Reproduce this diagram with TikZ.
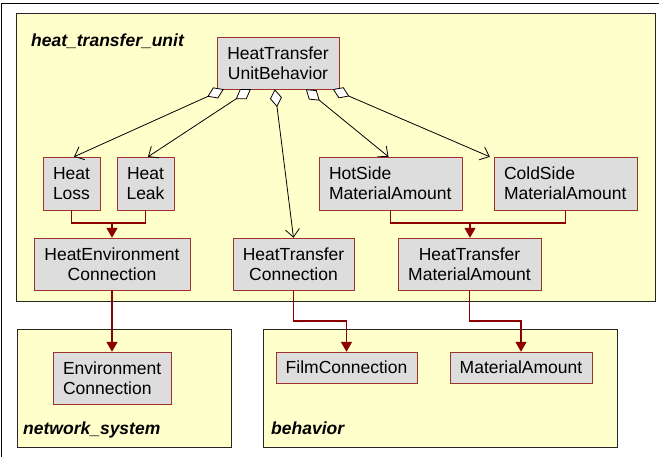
\documentclass[tikz,border=0pt]{standalone}
\usepackage{fontspec}
\setmainfont{Liberation Sans}
\usetikzlibrary{arrows.meta,calc}
\definecolor{pkgfill}{RGB}{255,255,204}
\definecolor{blkfill}{RGB}{221,221,221}
\definecolor{blkline}{RGB}{160,50,45}
\definecolor{relred}{RGB}{140,0,0}
\tikzset{
  blk/.style    = {draw=blkline, fill=blkfill, align=center, inner sep=0pt,
                   font=\fontsize{17.5}{20}\selectfont},
  blkl/.style   = {blk, align=left},
  pkg/.style    = {draw=black!85, fill=pkgfill, line width=1pt, inner sep=0pt},
  plbl/.style   = {font=\fontsize{17.5}{20}\selectfont\bfseries\itshape,
                   anchor=base west, inner sep=0pt},
  agg/.style    = {{Diamond[fill=white, length=18pt, width=12pt]}-{Straight Barb[length=8pt, width=14pt]},
                   black, line width=0.8pt},
  rel/.style    = {-{Triangle[length=10pt, width=11pt]}, relred, line width=1.6pt},
  relline/.style= {relred, line width=1.6pt},
}

\begin{document}
\begin{tikzpicture}[x=1pt, y=-1pt]

\useasboundingbox (0,0) rectangle (659,457);
\clip (0,0) rectangle (659,457);
\draw[line width=1pt] (1.5,3.5) rectangle (700,500);

% --- packages ---
\node[pkg, minimum width=639, minimum height=288] (htu) at (335.5,158) {};
\node[pkg, minimum width=214, minimum height=118] (net) at (124,388) {};
\node[pkg, minimum width=354, minimum height=118] (beh) at (440,388) {};

\node[plbl] (lhtu) at (31,47)  {heat\_transfer\_unit};
\node[plbl] (lnet) at (23,434) {network\_system};
\node[plbl] (lbeh) at (271,434) {behavior};

% --- heat_transfer_unit ---
\node[blk, minimum width=122, minimum height=52] (htub) at (278,63)
     {HeatTransfer\\UnitBehavior};
\node[blk, minimum width=57, minimum height=53] (loss) at (71.5,183.5)
     {Heat\\Loss};
\node[blk, minimum width=57, minimum height=53] (leak) at (145.5,183.5)
     {Heat\\Leak};
\node[blkl, text width=123, minimum width=143, minimum height=53] (hot) at (390.5,183.5)
     {HotSide\\MaterialAmount};
\node[blkl, text width=123, minimum width=143, minimum height=53] (cold) at (565.5,183.5)
     {ColdSide\\MaterialAmount};
\node[blk, minimum width=156, minimum height=52] (hec) at (112,264)
     {HeatEnvironment\\Connection};
\node[blk, minimum width=121, minimum height=52] (htc) at (293.5,264)
     {HeatTransfer\\Connection};
\node[blk, minimum width=143, minimum height=52] (htma) at (469.5,264)
     {HeatTransfer\\MaterialAmount};

% --- network_system, behavior ---
\node[blkl, text width=98, minimum width=118, minimum height=52] (envc) at (112,378)
     {Environment\\Connection};
\node[blk, minimum width=141, minimum height=31] (film) at (346.5,367.5)
     {FilmConnection};
\node[blk, minimum width=142, minimum height=31] (matam) at (521,367.5)
     {MaterialAmount};

% --- aggregations ---
\draw[agg] ([xshift=7]htub.south west) -- ([xshift=2.5]loss.north);
\draw[agg] ([xshift=34]htub.south west) -- ([xshift=2.5]leak.north);
\draw[agg] ([xshift=58]htub.south west) -- (htc.north);
\draw[agg] ([xshift=89]htub.south west) -- ([xshift=-2]hot.north);
\draw[agg] ([xshift=116]htub.south west) -- ([xshift=-4]cold.north west);

% --- specialisations ---
\coordinate (j1) at (112,223);
\coordinate (j2) at (470,223);
\draw[relline] (loss.south) |- (j1) -| (leak.south);
\draw[rel] (j1) -- (hec.north);
\draw[relline] (hot.south) |- (j2) -| (cold.south);
\draw[rel] (j2) -- ([xshift=0.5]htma.north);
\draw[rel] (hec.south) -- (envc.north);
\draw[rel] (htc.south) -- ++(0,31) -| (film.north);
\draw[rel] (htma.south) -- ++(0,31) -| (matam.north);

\end{tikzpicture}
\end{document}
